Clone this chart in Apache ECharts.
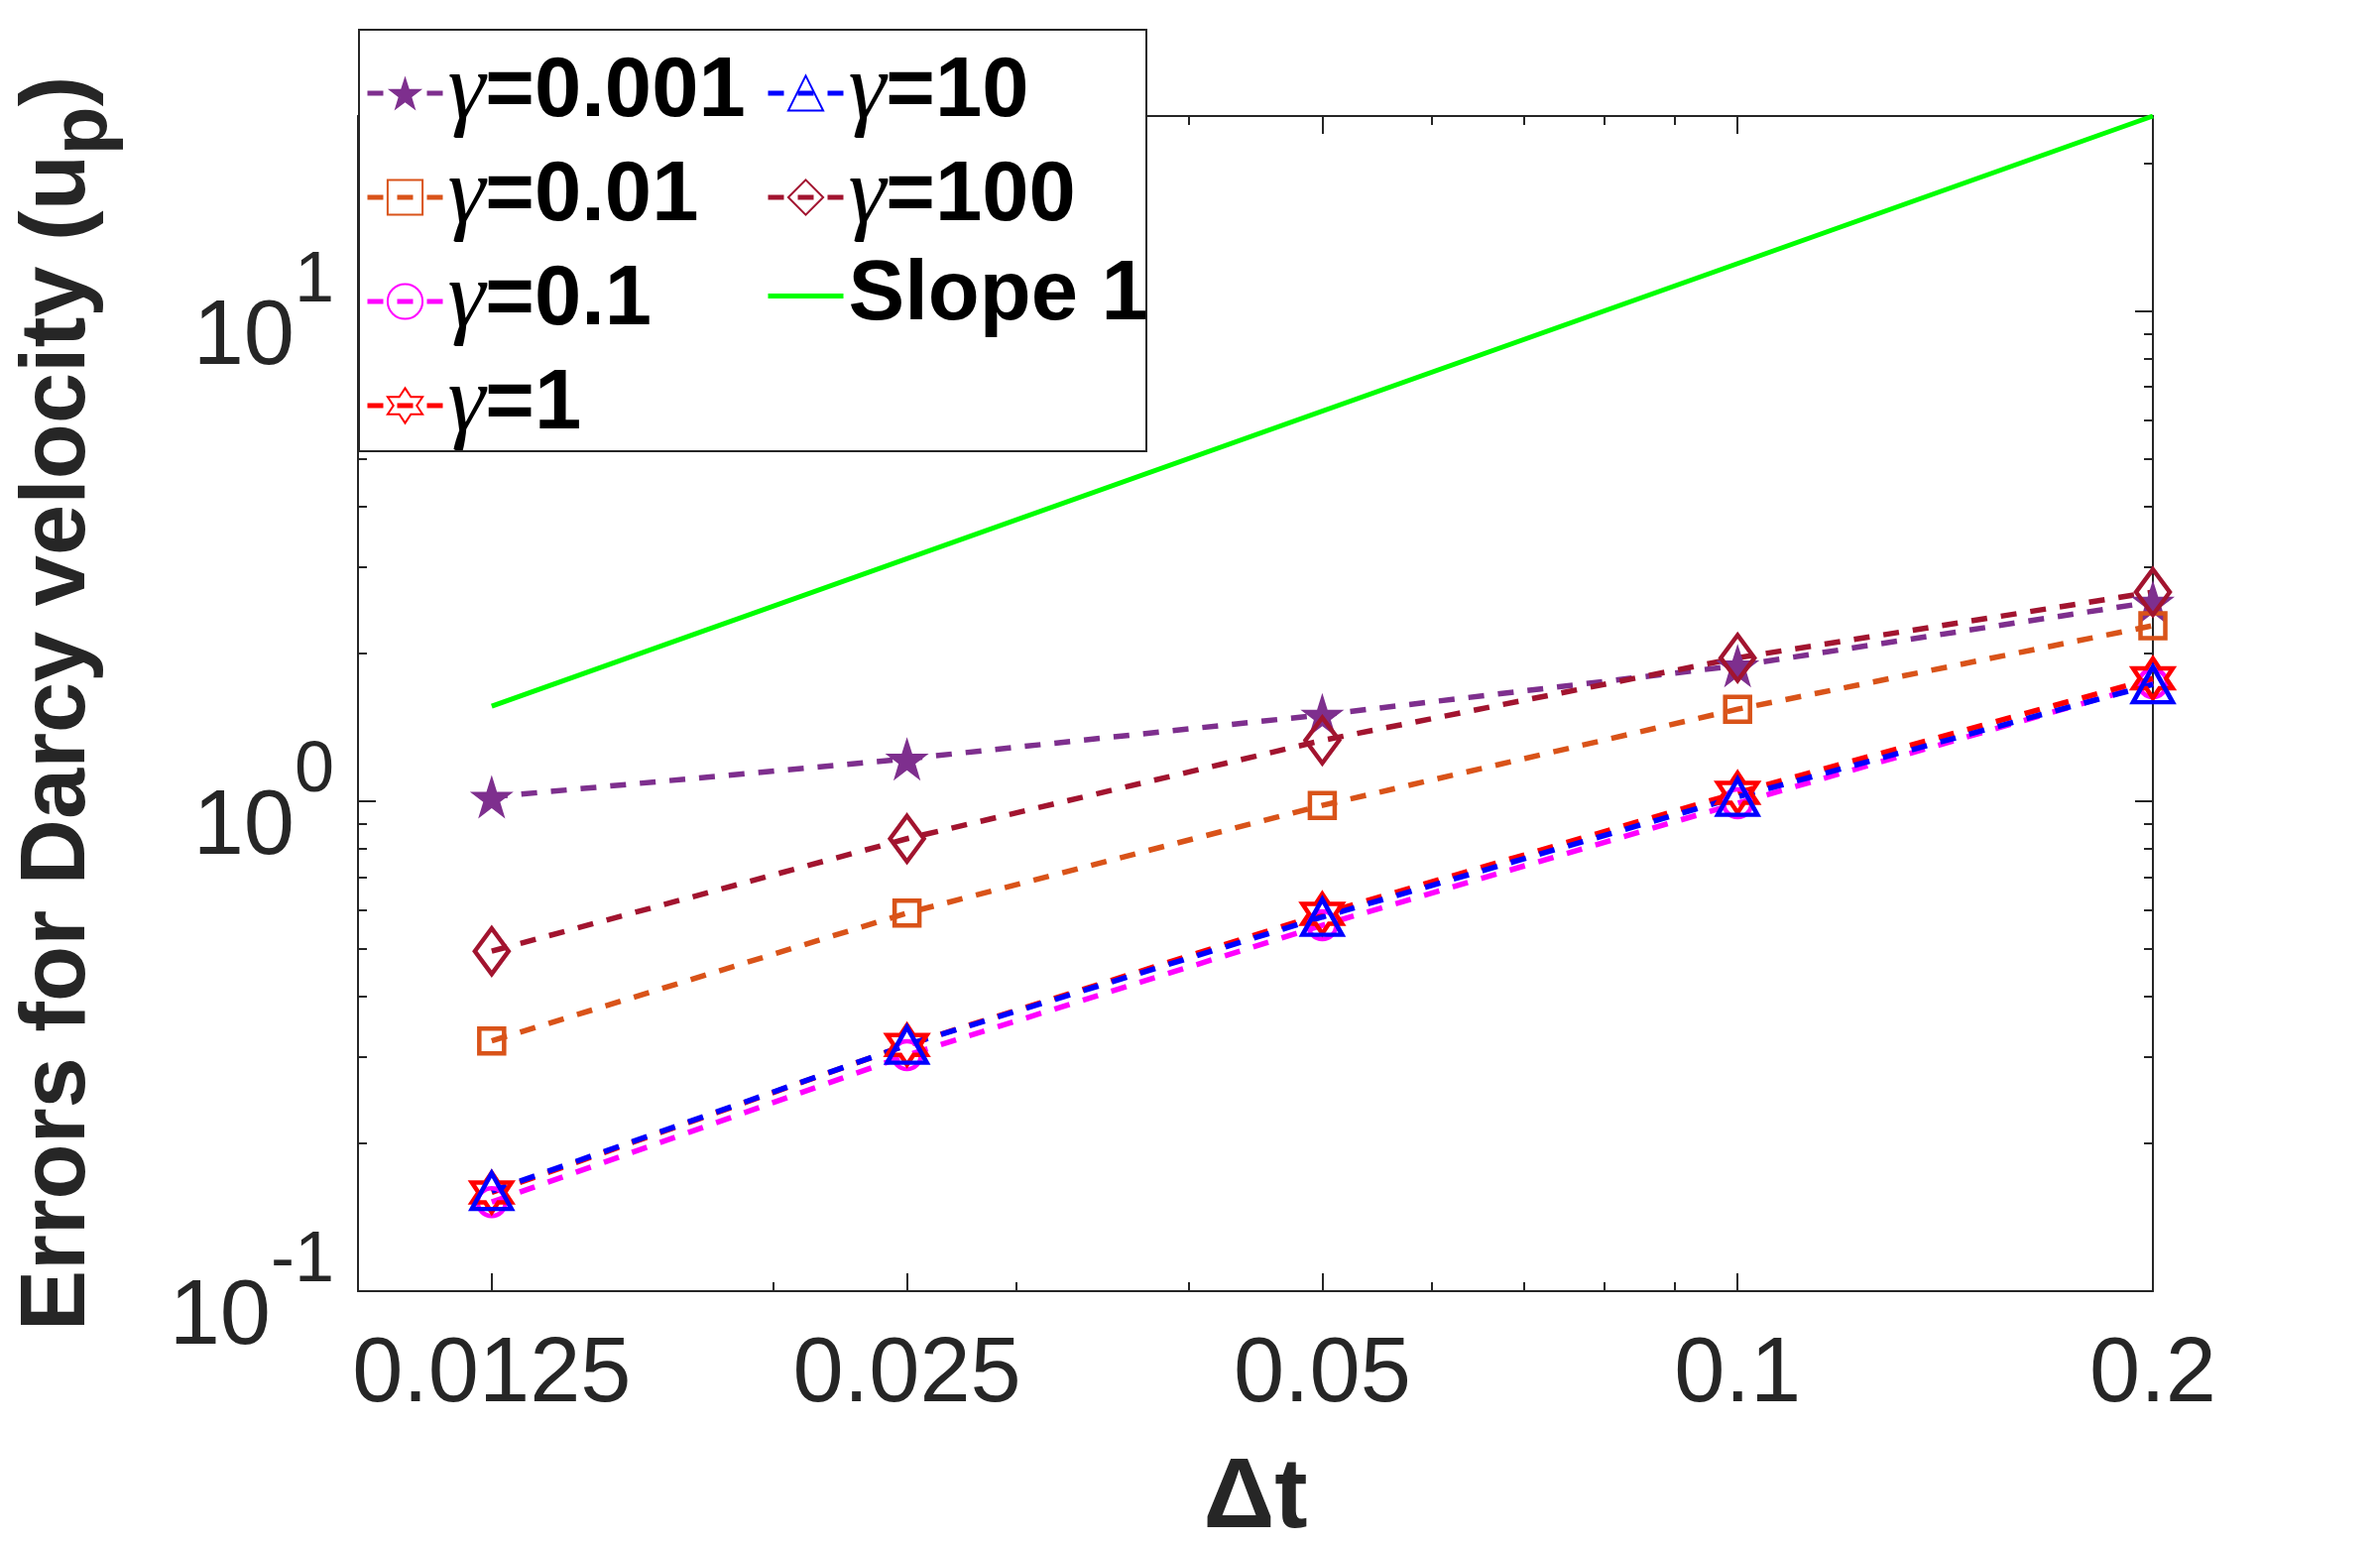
<!DOCTYPE html>
<html>
<head>
<meta charset="utf-8">
<script src="https://cdn.jsdelivr.net/npm/echarts@6/dist/echarts.min.js"></script>
<style>
html, body { margin: 0; padding: 0; background: #fff; }
#chart { width: 2400px; height: 1560px; }
</style>
</head>
<body>
<div id="chart"></div>
<script>
// time steps and errors
var dt = [0.0125, 0.025, 0.05, 0.1, 0.2];
var err_g0001 = [1.02, 1.22, 1.50, 1.89, 2.55];
var err_g001 = [0.324, 0.591, 0.98, 1.54, 2.28];
var err_g01 = [0.152, 0.303, 0.558, 0.99, 1.74];
var err_g1 = [0.159, 0.318, 0.589, 1.04, 1.78];
var err_g10 = [0.160, 0.318, 0.580, 1.02, 1.73];
var err_g100 = [0.494, 0.838, 1.33, 1.96, 2.67];
var slopeX = [0.0125, 0.2];
var slopeY = [1.5625, 25];

var xTicks = [0.0125, 0.025, 0.05, 0.1, 0.2];
var xMinorTicks = [0.02, 0.03, 0.04, 0.05, 0.06, 0.07, 0.08, 0.09];
var yTicks = [0.1, 1, 10];
var yMinorTicks = [0.2, 0.3, 0.4, 0.5, 0.6, 0.7, 0.8, 0.9, 2, 3, 4, 5, 6, 7, 8, 9, 20];

var axisColor = '#262626';
var sans = 'Liberation Sans';

var starPath = 'path://M50,2 L61.8,38.2 L99,38.2 L69,60.3 L80.4,96.6 L50,74 L19.6,96.6 L31,60.3 L1,38.2 L38.2,38.2 Z';
var hexPath = 'path://M50,0 L64.4,25 L93.3,25 L78.9,50 L93.3,75 L64.4,75 L50,100 L35.6,75 L6.7,75 L21.1,50 L6.7,25 L35.6,25 Z';

function zip(xs, ys) {
    return xs.map(function (x, i) { return [x, ys[i]]; });
}

function errSeries(name, ys, color, symbol, size, filled) {
    return {
        name: name,
        type: 'line',
        data: zip(dt, ys),
        symbol: symbol,
        symbolSize: size,
        showAllSymbol: true,
        lineStyle: { color: color, width: 5.5, type: [16, 14] },
        itemStyle: filled
            ? { color: color, borderWidth: 0 }
            : { color: 'rgba(255,255,255,0)', borderColor: color, borderWidth: 4.5 },
        emphasis: { disabled: true },
        z: 3
    };
}

function xAx(pos, ticks, len, main) {
    return {
        type: 'log', logBase: 10, min: 0.01, max: 0.2, position: pos,
        axisLine: { show: main, onZero: false, lineStyle: { color: axisColor, width: 2 } },
        axisTick: { show: true, inside: true, length: len, customValues: ticks,
                    lineStyle: { color: axisColor, width: 2 } },
        axisLabel: (pos === 'bottom' && main) ? {
            customValues: xTicks, fontSize: 92, color: axisColor, fontFamily: sans, margin: 40,
            formatter: function (v) { return String(+v.toPrecision(6)); }
        } : { show: false },
        splitLine: { show: false },
        minorTick: { show: false }
    };
}

function yAx(pos, ticks, len, main) {
    return {
        type: 'log', logBase: 10, min: 0.1, max: 25, position: pos,
        axisLine: { show: main, onZero: false, lineStyle: { color: axisColor, width: 2 } },
        axisTick: { show: true, inside: true, length: len, customValues: ticks,
                    lineStyle: { color: axisColor, width: 2 } },
        axisLabel: (pos === 'left' && main) ? {
            customValues: yTicks, margin: 24,
            formatter: function (v) {
                var e = Math.round(Math.log(v) / Math.LN10);
                return '{b|10}{s|' + e + '}';
            },
            rich: {
                b: { fontSize: 92, color: axisColor, fontFamily: sans, padding: [56, 0, 0, 0] },
                s: { fontSize: 72, color: axisColor, fontFamily: sans, padding: [0, 0, 60, 0] }
            }
        } : { show: false },
        splitLine: { show: false },
        minorTick: { show: false }
    };
}

var xAxes = [
    xAx('bottom', xTicks, 18, true),
    xAx('bottom', xMinorTicks, 9, false),
    xAx('top', xTicks, 18, true),
    xAx('top', xMinorTicks, 9, false)
];
xAxes[0].name = 'Δt';
xAxes[0].nameLocation = 'middle';
xAxes[0].nameGap = 160;
xAxes[0].nameTextStyle = { fontSize: 100, fontWeight: 'bold', color: axisColor, fontFamily: sans };

var yAxes = [
    yAx('left', yTicks, 18, true),
    yAx('left', yMinorTicks, 9, false),
    yAx('right', yTicks, 18, true),
    yAx('right', yMinorTicks, 9, false)
];
yAxes[0].name = '{n|Errors for Darcy velocity (u}{p|p}{n|)}';
yAxes[0].nameLocation = 'middle';
yAxes[0].nameGap = 236;
yAxes[0].nameTextStyle = {
    rich: {
        n: { fontSize: 92, fontWeight: 'bold', color: axisColor, fontFamily: sans },
        p: { fontSize: 80, fontWeight: 'bold', color: axisColor, fontFamily: sans, padding: [50, 0, 0, 0] }
    }
};

var legendRich = {
    g: { fontSize: 96, fontStyle: 'italic', fontFamily: 'Liberation Serif', color: '#000' },
    b: { fontSize: 85, fontWeight: 'bold', fontFamily: sans, color: '#000' }
};
function legendFmt(name) {
    if (name.charAt(0) === 'γ') return '{g|γ}{b|' + name.slice(1) + '}';
    return '{b|' + name + '}';
}
function legendCol(left, names) {
    return {
        data: names, orient: 'vertical', left: left, top: 46, padding: 0,
        itemWidth: 76, itemHeight: 44, itemGap: 9, z: 12,
        selectedMode: false, formatter: legendFmt,
        lineStyle: { width: 5 },
        textStyle: { rich: legendRich }
    };
}

var option = {
    backgroundColor: '#fff',
    animation: false,
    grid: { left: 361, right: 229, top: 117, bottom: 258, containLabel: false, outerBoundsMode: 'none' },
    xAxis: xAxes,
    yAxis: yAxes,
    legend: [
        legendCol(368, ['γ=0.001', 'γ=0.01', 'γ=0.1', 'γ=1']),
        legendCol(772, ['γ=10', 'γ=100',
            { name: 'Slope 1', itemStyle: { color: 'rgba(0,0,0,0)', borderColor: 'rgba(0,0,0,0)', opacity: 0 } }])
    ],
    graphic: [{
        type: 'rect', z: 10, silent: true,
        shape: { x: 362, y: 30, width: 794, height: 425 },
        style: { fill: '#fff', stroke: axisColor, lineWidth: 2 }
    }],
    series: [
        errSeries('γ=0.001', err_g0001, '#7E2F8E', starPath, 44, true),
        errSeries('γ=0.01', err_g001, '#D95319', 'rect', 25, false),
        errSeries('γ=0.1', err_g01, '#FF00FF', 'circle', 28, false),
        errSeries('γ=1', err_g1, '#FF0000', hexPath, 40, false),
        errSeries('γ=10', err_g10, '#0000FF', 'triangle', [40, 36], false),
        errSeries('γ=100', err_g100, '#A2142F', 'diamond', [34, 46], false),
        {
            name: 'Slope 1', type: 'line', data: zip(slopeX, slopeY),
            symbol: 'none', lineStyle: { color: '#00FF00', width: 5, type: 'solid' },
            itemStyle: { color: '#00FF00' }, emphasis: { disabled: true }, z: 3
        }
    ]
};

var chart = echarts.init(document.getElementById('chart'));
chart.setOption(option);
</script>
</body>
</html>
